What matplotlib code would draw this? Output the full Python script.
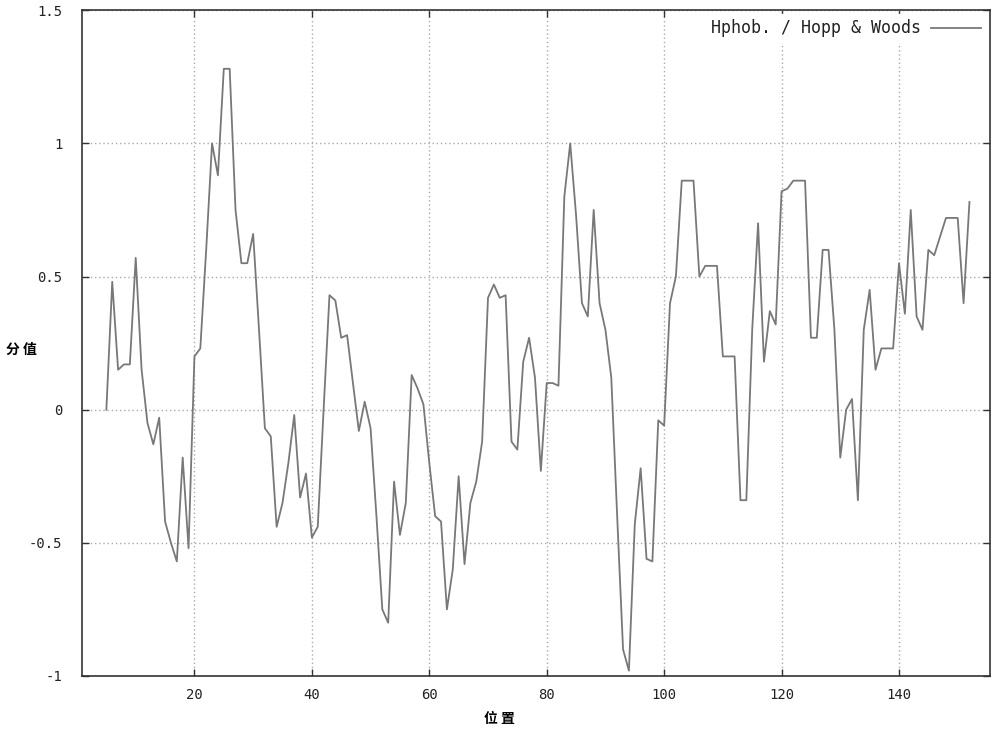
import matplotlib
matplotlib.use("Agg")
import matplotlib.pyplot as plt

positions = list(range(5, 153))
scores = [
    0.00, 0.48, 0.15, 0.17, 0.17, 0.57, 0.15, -0.05, -0.13, -0.03,
    -0.42, -0.50, -0.57, -0.18, -0.52, 0.20, 0.23, 0.60, 1.00, 0.88,
    1.28, 1.28, 0.75, 0.55, 0.55, 0.66, 0.30, -0.07, -0.10, -0.44,
    -0.35, -0.20, -0.02, -0.33, -0.24, -0.48, -0.44, 0.00, 0.43, 0.41,
    0.27, 0.28, 0.10, -0.08, 0.03, -0.07, -0.40, -0.75, -0.80, -0.27,
    -0.47, -0.35, 0.13, 0.08, 0.02, -0.20, -0.40, -0.42, -0.75, -0.60,
    -0.25, -0.58, -0.35, -0.27, -0.12, 0.42, 0.47, 0.42, 0.43, -0.12,
    -0.15, 0.18, 0.27, 0.12, -0.23, 0.10, 0.10, 0.09, 0.80, 1.00,
    0.73, 0.40, 0.35, 0.75, 0.40, 0.30, 0.12, -0.40, -0.90, -0.98,
    -0.43, -0.22, -0.56, -0.57, -0.04, -0.06, 0.40, 0.50, 0.86, 0.86,
    0.86, 0.50, 0.54, 0.54, 0.54, 0.20, 0.20, 0.20, -0.34, -0.34,
    0.30, 0.70, 0.18, 0.37, 0.32, 0.82, 0.83, 0.86, 0.86, 0.86,
    0.27, 0.27, 0.60, 0.60, 0.30, -0.18, 0.00, 0.04, -0.34, 0.30,
    0.45, 0.15, 0.23, 0.23, 0.23, 0.55, 0.36, 0.75, 0.35, 0.30,
    0.60, 0.58, 0.65, 0.72, 0.72, 0.72, 0.40, 0.78,
]
x_ticks = [20, 40, 60, 80, 100, 120, 140]
y_ticks = [-1, -0.5, 0, 0.5, 1, 1.5]
y_tick_labels = ["-1", "-0.5", "0", "0.5", "1", "1.5"]
series_label = "Hphob. / Hopp & Woods"
x_label = "位 置"
y_label = "分 值"

mono = ["DejaVu Sans Mono"]
cjk = ["Noto Sans CJK SC", "DejaVu Sans"]

fig = plt.figure(figsize=(10, 7.3), dpi=100)
ax = fig.add_axes([0.082, 0.074, 0.908, 0.912])

ax.plot(positions, scores, color="#787878", linewidth=1.3, label=series_label)

ax.set_xlim(0.85, 155.5)
ax.set_ylim(-1, 1.5)
ax.set_xticks(x_ticks)
ax.set_xticklabels([str(t) for t in x_ticks], family=mono, fontsize=10, color="#222222")
ax.set_yticks(y_ticks)
ax.set_yticklabels(y_tick_labels, family=mono, fontsize=10, color="#222222")
ax.tick_params(direction="in", length=5, width=1, color="#333333",
               top=True, right=True)
ax.tick_params(axis="y", pad=14)
ax.tick_params(axis="x", pad=9)

ax.grid(True, color="#aaaaaa", linestyle=(0, (1, 2)), linewidth=1)
for sp in ax.spines.values():
    sp.set_color("#333333")
    sp.set_linewidth(1.2)

fig.text(0.021, (730 - 350) / 730, y_label, family=cjk,
         fontsize=10, fontweight="bold", ha="center", va="center")
fig.text(0.499, (730 - 719) / 730, x_label, family=cjk,
         fontsize=10, fontweight="bold", ha="center", va="center")

leg = ax.legend(loc="upper right", frameon=True, prop={"family": mono, "size": 12},
                markerfirst=False, handlelength=3.0, handletextpad=0.6,
                borderaxespad=0.25, borderpad=0.3,
                fancybox=False, edgecolor="white", facecolor="white", framealpha=1)
for txt in leg.get_texts():
    txt.set_color("#222222")

fig.savefig("out.png", dpi=100, facecolor="white")
